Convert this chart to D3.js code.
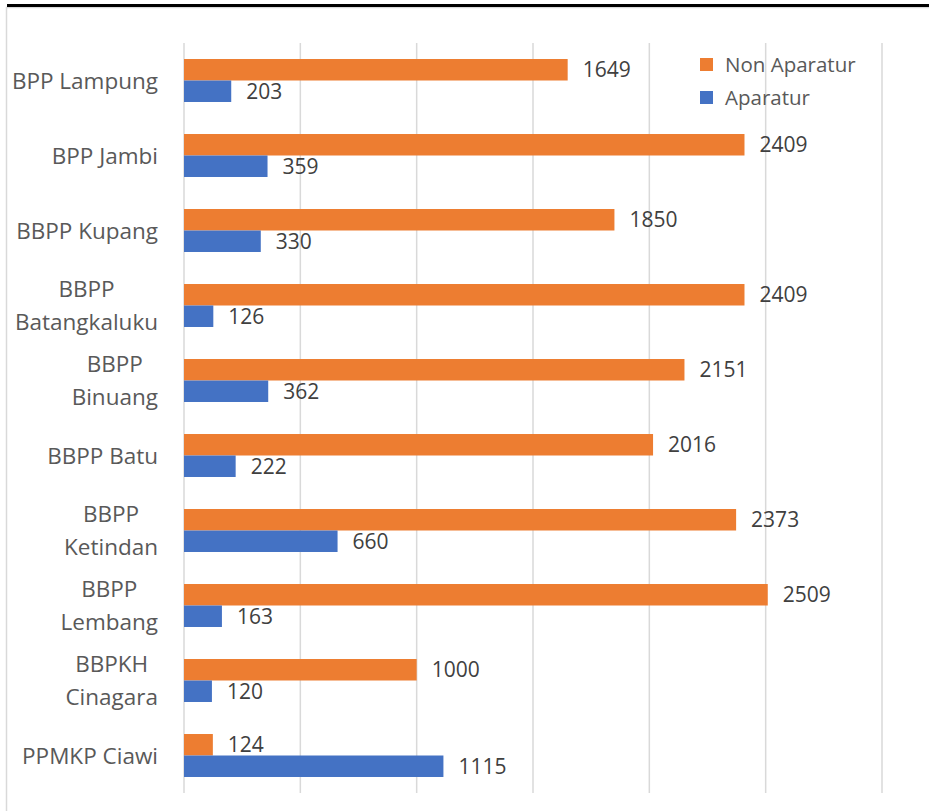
<!DOCTYPE html>
<html>
<head>
<meta charset="utf-8">
<script src="https://cdn.jsdelivr.net/npm/d3@7"></script>
<style>
  body { margin: 0; background: #fff; }
  text { font-family: "Open Sans", sans-serif; }
</style>
</head>
<body>
<div id="chart"></div>
<script>
const categories = ["BPP Lampung", "BPP Jambi", "BBPP Kupang", "BBPP Batangkaluku", "BBPP Binuang",
  "BBPP Batu", "BBPP Ketindan", "BBPP Lembang", "BBPKH Cinagara", "PPMKP Ciawi"];
// how each category label wraps in the picture
const labelLines = [["BPP Lampung"], ["BPP Jambi"], ["BBPP Kupang"], ["BBPP", "Batangkaluku"], ["BBPP", "Binuang"],
  ["BBPP Batu"], ["BBPP", "Ketindan"], ["BBPP", "Lembang"], ["BBPKH", "Cinagara"], ["PPMKP Ciawi"]];
const nonAparatur = [1649, 2409, 1850, 2409, 2151, 2016, 2373, 2509, 1000, 124];
const aparatur = [203, 359, 330, 126, 362, 222, 660, 163, 120, 1115];
const seriesNames = ["Non Aparatur", "Aparatur"];
const seriesColors = ["#ED7D31", "#4472C4"];
const xTicks = [0, 500, 1000, 1500, 2000, 2500, 3000];

const width = 929, height = 811;
const plot = {left: 184, right: 882, top: 43, bottom: 793};

const svg = d3.select("#chart").append("svg")
    .attr("width", width)
    .attr("height", height);

// frame
svg.append("rect")
    .attr("x", 6.5).attr("y", 7.5)
    .attr("width", 940).attr("height", 820)
    .attr("fill", "none")
    .attr("stroke", "#D9D9D9")
    .attr("stroke-width", 1.5);
svg.append("rect")
    .attr("x", 7).attr("y", 4)
    .attr("width", width).attr("height", 3)
    .attr("fill", "#000");

const x = d3.scaleLinear().domain([0, 3000]).range([plot.left, plot.right]);
const y = d3.scaleBand().domain(categories).range([plot.top, plot.bottom])
    .paddingInner(0.427).paddingOuter(0.2135);
const ySub = d3.scaleBand().domain(seriesNames).range([0, y.bandwidth()]);

// gridlines
svg.append("g").selectAll("line")
    .data(xTicks)
    .enter().append("line")
    .attr("x1", d => x(d)).attr("x2", d => x(d))
    .attr("y1", plot.top).attr("y2", plot.bottom)
    .attr("stroke", "#D9D9D9")
    .attr("stroke-width", 1.5);

const rows = categories.map((c, i) => [
  {cat: c, s: seriesNames[0], v: nonAparatur[i], color: seriesColors[0]},
  {cat: c, s: seriesNames[1], v: aparatur[i], color: seriesColors[1]}
]).flat();

svg.append("g").selectAll("rect")
    .data(rows)
    .enter().append("rect")
    .attr("x", x(0))
    .attr("y", d => y(d.cat) + ySub(d.s))
    .attr("width", d => x(d.v) - x(0))
    .attr("height", ySub.bandwidth())
    .attr("fill", d => d.color);

svg.append("g").selectAll("text")
    .data(rows)
    .enter().append("text")
    .attr("x", d => x(d.v) + 15)
    .attr("y", d => y(d.cat) + ySub(d.s) + ySub.bandwidth() / 2)
    .attr("dy", "0.36em")
    .attr("font-size", 21)
    .attr("fill", "#404040")
    .text(d => d.v);

// category labels: block right-aligned, lines centred inside it
const labelRight = 158;
const lab = svg.append("g").selectAll("text")
    .data(categories)
    .enter().append("text")
    .attr("font-size", 22.5)
    .attr("fill", "#595959")
    .attr("text-anchor", "middle");

lab.each(function(c, i) {
  const t = d3.select(this);
  const lines = labelLines[i];
  const cy = y(c) + y.bandwidth() / 2;
  const lh = 33;
  lines.forEach((ln, k) => {
    t.append("tspan")
      .attr("y", cy + (k - (lines.length - 1) / 2) * lh)
      .attr("dy", "0.36em")
      .text(ln);
  });
  let maxW = 0;
  t.selectAll("tspan").each(function() { maxW = Math.max(maxW, this.getComputedTextLength()); });
  t.selectAll("tspan").attr("x", labelRight - maxW / 2);
});

// legend
const legend = svg.append("g").selectAll("g")
    .data(seriesNames)
    .enter().append("g")
    .attr("transform", (d, i) => `translate(700, ${58 + i * 33})`);
legend.append("rect")
    .attr("width", 13).attr("height", 13)
    .attr("fill", (d, i) => seriesColors[i]);
legend.append("text")
    .attr("x", 25).attr("y", 7)
    .attr("dy", "0.36em")
    .attr("font-size", 20.5)
    .attr("fill", "#595959")
    .text(d => d);
</script>
</body>
</html>
